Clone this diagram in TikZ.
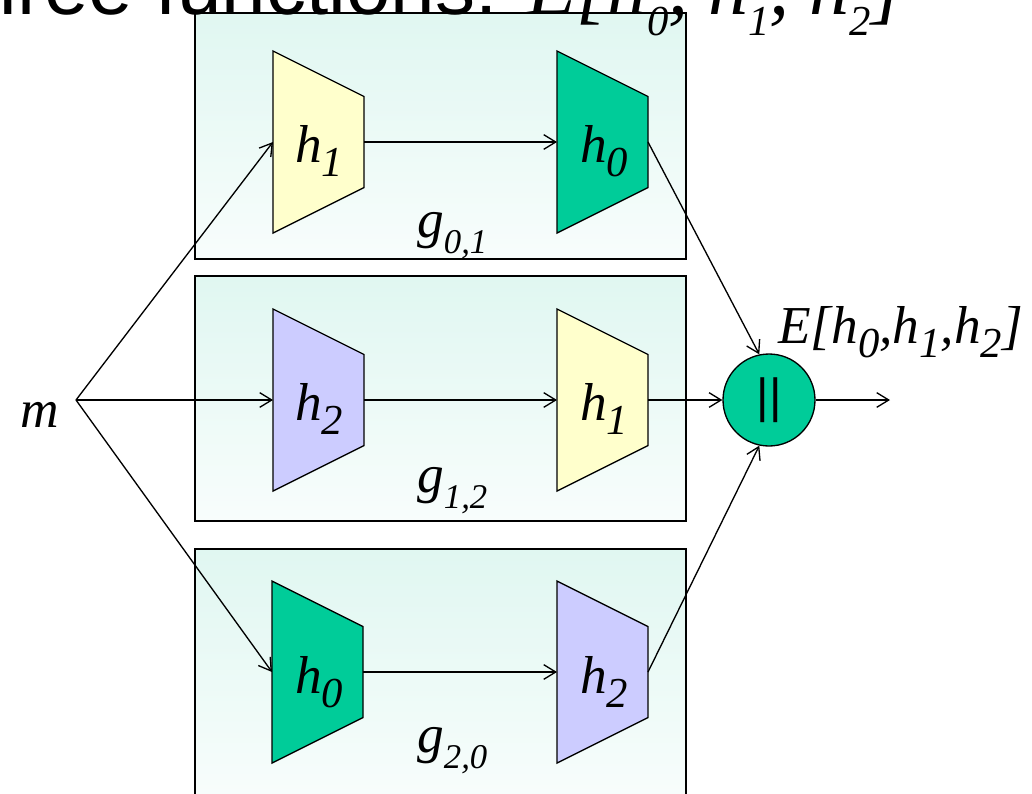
\documentclass[tikz,border=0pt]{standalone}
\usepackage{fontspec}
\setmainfont{Liberation Serif}
\newfontfamily\arialf{Liberation Sans}
\usetikzlibrary{arrows.meta}
\definecolor{tyellow}{RGB}{255,255,204}
\definecolor{tgreen}{RGB}{0,204,153}
\definecolor{tlav}{RGB}{204,204,255}
\definecolor{boxtop}{RGB}{224,247,241}
\definecolor{boxbot}{RGB}{248,253,252}
\newcommand\lsub[1]{\raisebox{-11pt}{\fontsize{32}{36}\selectfont #1}}
\newcommand\gsubs[1]{\raisebox{-12pt}{\fontsize{26}{30}\selectfont #1}}
\newcommand\tsubs[1]{\raisebox{-16pt}{\fontsize{32}{36}\selectfont #1}}
\tikzset{
 conn/.style={draw, line width=1pt, -{Straight Barb[length=9pt,width=11pt]}},
 grpbox/.style={draw, line width=1.1pt, top color=boxtop, bottom color=boxbot},
 trap/.style={draw, line width=1pt},
 lab/.style={font=\fontsize{40}{48}\selectfont\itshape, inner sep=0pt, anchor=base west},
}
\newcommand\mytrap[4]{%
 \filldraw[trap, fill=#4] (#2,#3-91) -- (#2+91,#3-45.5) -- (#2+91,#3+45.5) -- (#2,#3+91) -- cycle;
 \coordinate (#1-w) at (#2,#3);
 \coordinate (#1-e) at (#2+91,#3);
}
\begin{document}
\begin{tikzpicture}[x=0.75pt,y=-0.75pt]
\useasboundingbox (0,0) rectangle (1032,793);
\clip (0,0) rectangle (1032,793);
% group boxes
\path[grpbox] (195,13) rectangle (686,259);
\path[grpbox] (195,276) rectangle (686,521);
\path[grpbox] (195,549) rectangle (686,800);
% title (cut off at the top)
\node[inner sep=0pt, anchor=base west, font=\arialf\fontsize{60}{72}\selectfont] (title) at (155,14)
  {\llap{Three }functions: {\rmfamily\itshape E[h\tsubs{0}, h\tsubs{1}, h\tsubs{2}]}};
% trapezoids
\mytrap{a1}{273}{142}{tyellow}
\mytrap{a2}{557}{142}{tgreen}
\mytrap{b1}{273}{400}{tlav}
\mytrap{b2}{557}{400}{tyellow}
\mytrap{c1}{272}{672}{tgreen}
\mytrap{c2}{557}{672}{tlav}
% trapezoid labels
\node[lab] (la1) at (295,162) {h\lsub{1}};
\node[lab] (la2) at (580,162) {h\lsub{0}};
\node[lab] (lb1) at (295,420) {h\lsub{2}};
\node[lab] (lb2) at (580,420) {h\lsub{1}};
\node[lab] (lc1) at (295,693) {h\lsub{0}};
\node[lab] (lc2) at (580,693) {h\lsub{2}};
% group labels
\node[lab] (g01) at (417,237) {g\gsubs{0,1}};
\node[lab] (g12) at (417,492) {g\gsubs{1,2}};
\node[lab] (g20) at (417,752) {g\gsubs{2,0}};
% combiner
\node[circle, draw, line width=1pt, fill=tgreen, minimum size=69pt, inner sep=0pt,
      font=\arialf\fontsize{36}{40}\selectfont] (E) at (769,400) {||};
\node[lab] (elab) at (778,343) {E[h\lsub{0},h\lsub{1},h\lsub{2}]};
% input
\node[lab] (mlab) at (20,427) {m};
\coordinate (src) at (76,400);
\coordinate (out) at (890,400);
% connectors
\draw[conn] (src) -- (a1-w);
\draw[conn] (src) -- (b1-w);
\draw[conn] (src) -- (c1-w);
\draw[conn] (a1-e) -- (a2-w);
\draw[conn] (b1-e) -- (b2-w);
\draw[conn] (c1-e) -- (c2-w);
\draw[conn] (a2-e) -- (E.102);
\draw[conn] (b2-e) -- (E.west);
\draw[conn] (c2-e) -- (E.258);
\draw[conn] (E.east) -- (out);
\end{tikzpicture}
\end{document}
